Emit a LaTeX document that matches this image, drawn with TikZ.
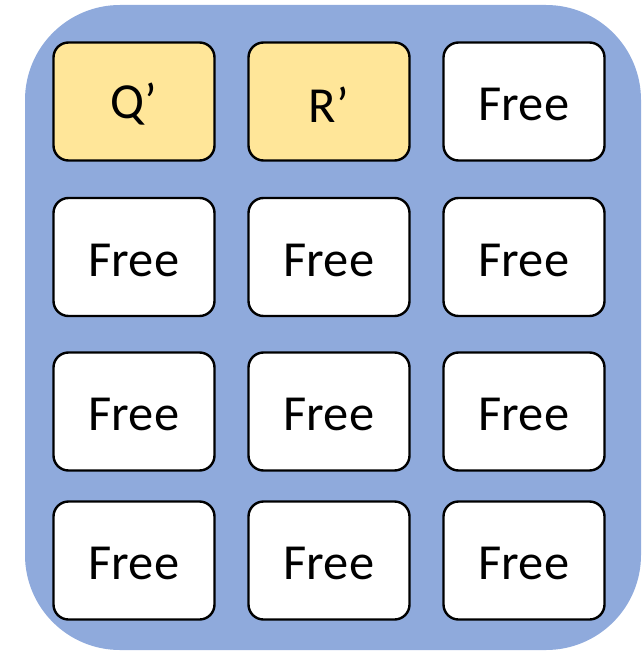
\documentclass[tikz,border=0pt]{standalone}
\usepackage{fontspec}
\setmainfont{Carlito}
\definecolor{bgblue}{HTML}{8FAADC}
\definecolor{cellyellow}{HTML}{FFE699}
\newcommand{\celltxt}[1]{\raisebox{-3pt}[\height][\depth]{#1}}
\begin{document}
\begin{tikzpicture}[x=1pt,y=-1pt,
  cell/.style={draw=black, line width=2.4pt, rounded corners=15pt, fill=white,
    minimum width=161pt, minimum height=118pt, inner sep=0pt,
    font=\fontsize{50.5}{60}\selectfont},
  hl/.style={cell, fill=cellyellow}]
\useasboundingbox (0,0) rectangle (641,652);
\fill[bgblue, rounded corners=95pt] (25,5) rectangle (641,650);
\node[hl]   (q)   at (134,101.5) {\celltxt{Q’}};
\node[hl]   (r)   at (329,101.5) {\celltxt{R’}};
\node[cell] (c13) at (524,101.5) {\celltxt{Free}};
\node[cell] (c21) at (134,257) {\celltxt{Free}};
\node[cell] (c22) at (329,257) {\celltxt{Free}};
\node[cell] (c23) at (524,257) {\celltxt{Free}};
\node[cell] (c31) at (134,411.5) {\celltxt{Free}};
\node[cell] (c32) at (329,411.5) {\celltxt{Free}};
\node[cell] (c33) at (524,411.5) {\celltxt{Free}};
\node[cell] (c41) at (134,560.5) {\celltxt{Free}};
\node[cell] (c42) at (329,560.5) {\celltxt{Free}};
\node[cell] (c43) at (524,560.5) {\celltxt{Free}};
\end{tikzpicture}
\end{document}
